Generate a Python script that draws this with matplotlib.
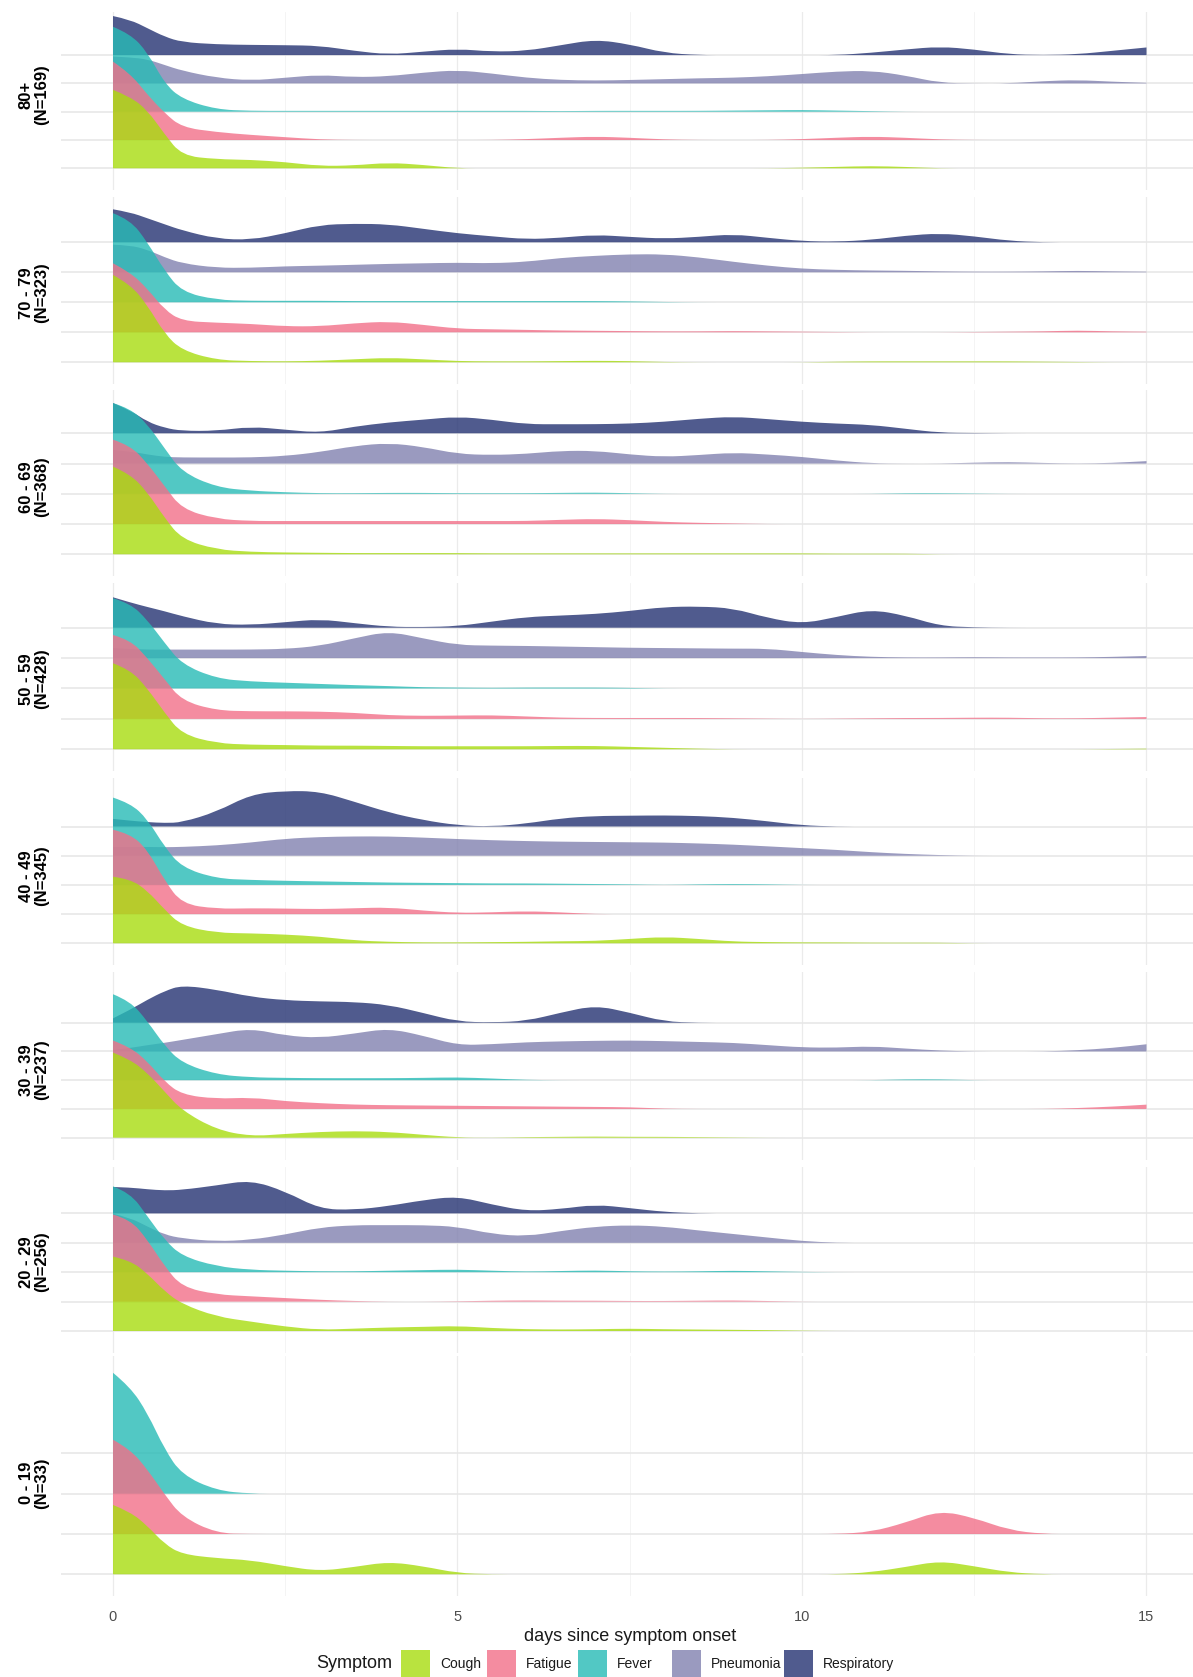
import numpy as np
import matplotlib
matplotlib.use("Agg")
import matplotlib.pyplot as plt
from matplotlib.patches import Rectangle, PathPatch
from matplotlib.path import Path

# ---------------- data ----------------
DAYS = [0, 0.25, 0.5, 0.75, 1, 1.5, 2, 2.5, 3, 3.5, 4, 4.5, 5, 5.5, 6, 6.5, 7,
        7.5, 8, 8.5, 9, 9.5, 10, 10.5, 11, 11.5, 12, 12.5, 13, 13.5, 14, 14.5, 15]
SYMPTOMS = ["Cough", "Fatigue", "Fever", "Pneumonia", "Respiratory"]
AGE_GROUPS = ["80+", "70 - 79", "60 - 69", "50 - 59", "40 - 49", "30 - 39", "20 - 29", "0 - 19"]
N_CASES = [169, 323, 368, 428, 345, 237, 256, 33]
X_TICKS = [0, 5, 10, 15]

# ridge heights (in units of ridge spacing), one value per entry of DAYS
RESP_80 = [1.38, 1.25, 0.95, 0.65, 0.46, 0.38, 0.36, 0.35, 0.33, 0.15, 0.02, 0.12, 0.22, 0.12, 0.15,
           0.35, 0.55, 0.38, 0.08, 0.0, 0.0, 0.0, 0.0, 0.0, 0.08, 0.2, 0.3, 0.2, 0.03, 0.0, 0.03, 0.15, 0.27]
PNEU_80 = [0.95, 0.92, 0.85, 0.65, 0.45, 0.2, 0.1, 0.2, 0.3, 0.22, 0.25, 0.38, 0.47, 0.35, 0.2,
           0.12, 0.1, 0.12, 0.15, 0.18, 0.2, 0.25, 0.33, 0.42, 0.45, 0.28, 0.02, 0.0, 0.0, 0.08, 0.12, 0.06, 0.02]
FEVER_80 = [3.0, 2.75, 2.1, 1.0, 0.45, 0.08, 0.03, 0.03, 0.03, 0.03, 0.03, 0.03, 0.03, 0.03, 0.03,
            0.02, 0.03, 0.03, 0.03, 0.03, 0.04, 0.05, 0.06, 0.04, 0.02, 0.0, 0.0, 0.0, 0.0, 0.0, 0.0, 0.0, 0.0]
FATIGUE_80 = [2.77, 2.35, 1.6, 0.95, 0.45, 0.28, 0.18, 0.1, 0.02, 0.0, 0.0, 0.0, 0.0, 0.0, 0.03,
              0.08, 0.12, 0.08, 0.02, 0.0, 0.0, 0.0, 0.03, 0.08, 0.12, 0.08, 0.02, 0.0, 0.0, 0.0, 0.0, 0.0, 0.0]
COUGH_80 = [2.77, 2.53, 2.05, 1.2, 0.45, 0.32, 0.3, 0.22, 0.08, 0.1, 0.2, 0.12, 0.0, 0.0, 0.0,
            0.0, 0.0, 0.0, 0.0, 0.0, 0.0, 0.0, 0.02, 0.05, 0.08, 0.05, 0.0, 0.0, 0.0, 0.0, 0.0, 0.0, 0.0]

RESP_70 = [1.1, 1.0, 0.8, 0.6, 0.4, 0.12, 0.08, 0.3, 0.58, 0.62, 0.6, 0.45, 0.3, 0.2, 0.1,
           0.15, 0.25, 0.18, 0.12, 0.18, 0.27, 0.15, 0.04, 0.02, 0.08, 0.22, 0.3, 0.2, 0.05, 0.0, 0.0, 0.0, 0.0]
PNEU_70 = [0.92, 0.9, 0.75, 0.5, 0.3, 0.15, 0.15, 0.2, 0.22, 0.25, 0.28, 0.3, 0.32, 0.3, 0.35,
           0.48, 0.55, 0.6, 0.6, 0.5, 0.35, 0.22, 0.12, 0.08, 0.06, 0.05, 0.03, 0.02, 0.02, 0.03, 0.05, 0.03, 0.02]
FEVER_70 = [2.97, 2.75, 2.0, 1.05, 0.35, 0.08, 0.05, 0.05, 0.05, 0.04, 0.04, 0.04, 0.04, 0.04, 0.04,
            0.04, 0.04, 0.03, 0.01, 0.0, 0.0, 0.0, 0.0, 0.0, 0.0, 0.0, 0.0, 0.0, 0.0, 0.0, 0.0, 0.0, 0.0]
FATIGUE_70 = [2.3, 2.0, 1.45, 0.75, 0.38, 0.32, 0.28, 0.2, 0.2, 0.3, 0.36, 0.25, 0.12, 0.1, 0.08,
              0.06, 0.05, 0.04, 0.03, 0.03, 0.04, 0.03, 0.02, 0.01, 0.0, 0.0, 0.0, 0.01, 0.02, 0.03, 0.06, 0.03, 0.02]
COUGH_70 = [2.91, 2.6, 1.9, 0.95, 0.4, 0.08, 0.04, 0.03, 0.05, 0.1, 0.15, 0.1, 0.04, 0.03, 0.03,
            0.04, 0.05, 0.04, 0.01, 0.0, 0.0, 0.0, 0.0, 0.02, 0.03, 0.03, 0.03, 0.03, 0.03, 0.02, 0.01, 0.0, 0.0]

RESP_60 = [1.0, 0.76, 0.38, 0.18, 0.08, 0.08, 0.22, 0.12, 0.02, 0.22, 0.36, 0.45, 0.55, 0.45, 0.3,
           0.3, 0.3, 0.32, 0.38, 0.48, 0.55, 0.47, 0.38, 0.32, 0.28, 0.15, 0.02, 0.01, 0.0, 0.0, 0.0, 0.0, 0.0]
PNEU_60 = [0.45, 0.4, 0.3, 0.22, 0.2, 0.2, 0.2, 0.25, 0.38, 0.58, 0.68, 0.55, 0.32, 0.28, 0.32,
           0.42, 0.42, 0.3, 0.22, 0.28, 0.36, 0.3, 0.22, 0.1, 0.01, 0.0, 0.0, 0.03, 0.05, 0.02, 0.0, 0.02, 0.08]
FEVER_60 = [3.0, 2.82, 2.3, 1.5, 0.72, 0.22, 0.1, 0.05, 0.02, 0.02, 0.03, 0.03, 0.02, 0.02, 0.02,
            0.03, 0.04, 0.02, 0.0, 0.0, 0.0, 0.0, 0.0, 0.0, 0.0, 0.02, 0.02, 0.01, 0.0, 0.0, 0.0, 0.0, 0.0]
FATIGUE_60 = [2.79, 2.6, 2.0, 1.25, 0.5, 0.17, 0.1, 0.1, 0.1, 0.1, 0.1, 0.1, 0.1, 0.1, 0.1,
              0.14, 0.17, 0.13, 0.07, 0.04, 0.02, 0.0, 0.0, 0.0, 0.0, 0.0, 0.0, 0.0, 0.0, 0.0, 0.0, 0.0, 0.0]
COUGH_60 = [2.9, 2.65, 2.05, 1.2, 0.5, 0.16, 0.08, 0.06, 0.05, 0.04, 0.04, 0.04, 0.04, 0.03, 0.03,
            0.03, 0.03, 0.03, 0.03, 0.03, 0.03, 0.03, 0.03, 0.02, 0.02, 0.02, 0.0, 0.0, 0.0, 0.0, 0.0, 0.0, 0.0]

RESP_50 = [1.0, 0.83, 0.68, 0.54, 0.38, 0.12, 0.09, 0.18, 0.28, 0.15, 0.03, 0.02, 0.05, 0.2, 0.35,
           0.4, 0.45, 0.55, 0.68, 0.7, 0.64, 0.32, 0.13, 0.35, 0.6, 0.4, 0.06, 0.01, 0.0, 0.0, 0.0, 0.0, 0.0]
PNEU_50 = [0.33, 0.3, 0.28, 0.28, 0.28, 0.28, 0.28, 0.3, 0.4, 0.65, 0.88, 0.65, 0.43, 0.41, 0.4,
           0.38, 0.36, 0.34, 0.33, 0.32, 0.31, 0.31, 0.2, 0.1, 0.04, 0.02, 0.02, 0.03, 0.02, 0.02, 0.02, 0.04, 0.07]
FEVER_50 = [2.97, 2.8, 2.25, 1.5, 0.8, 0.33, 0.23, 0.19, 0.15, 0.11, 0.08, 0.04, 0.03, 0.02, 0.03,
            0.03, 0.03, 0.02, 0.0, 0.0, 0.0, 0.0, 0.0, 0.0, 0.0, 0.0, 0.0, 0.0, 0.0, 0.0, 0.0, 0.0, 0.0]
FATIGUE_50 = [2.76, 2.6, 2.0, 1.3, 0.6, 0.28, 0.25, 0.25, 0.24, 0.2, 0.12, 0.1, 0.11, 0.12, 0.08,
              0.04, 0.03, 0.03, 0.03, 0.03, 0.02, 0.01, 0.0, 0.01, 0.02, 0.03, 0.03, 0.04, 0.04, 0.02, 0.02, 0.04, 0.06]
COUGH_50 = [2.83, 2.62, 2.0, 1.2, 0.5, 0.2, 0.15, 0.14, 0.12, 0.12, 0.11, 0.1, 0.1, 0.1, 0.1,
            0.11, 0.11, 0.08, 0.05, 0.02, 0.0, 0.0, 0.0, 0.0, 0.0, 0.0, 0.0, 0.0, 0.0, 0.0, 0.0, 0.01, 0.02]

RESP_40 = [0.26, 0.2, 0.15, 0.12, 0.14, 0.5, 1.1, 1.22, 1.2, 0.85, 0.48, 0.22, 0.04, 0.0, 0.1,
           0.28, 0.36, 0.37, 0.38, 0.36, 0.3, 0.18, 0.04, 0.0, 0.0, 0.0, 0.0, 0.0, 0.0, 0.0, 0.0, 0.0, 0.0]
PNEU_40 = [0.3, 0.3, 0.3, 0.29, 0.3, 0.35, 0.45, 0.58, 0.64, 0.66, 0.66, 0.62, 0.57, 0.53, 0.5,
           0.48, 0.47, 0.46, 0.45, 0.42, 0.38, 0.32, 0.26, 0.2, 0.12, 0.06, 0.02, 0.0, 0.0, 0.0, 0.0, 0.0, 0.0]
FEVER_40 = [2.99, 2.8, 2.25, 1.3, 0.6, 0.22, 0.17, 0.14, 0.12, 0.1, 0.08, 0.07, 0.06, 0.05, 0.05,
            0.04, 0.03, 0.02, 0.0, 0.02, 0.03, 0.02, 0.0, 0.0, 0.0, 0.0, 0.0, 0.0, 0.0, 0.0, 0.0, 0.0, 0.0]
FATIGUE_40 = [2.89, 2.75, 2.2, 1.15, 0.35, 0.18, 0.2, 0.19, 0.17, 0.2, 0.23, 0.12, 0.04, 0.06, 0.1,
              0.06, 0.0, 0.0, 0.0, 0.0, 0.0, 0.0, 0.0, 0.0, 0.0, 0.0, 0.0, 0.0, 0.0, 0.0, 0.0, 0.0, 0.0]
COUGH_40 = [2.28, 2.2, 1.8, 1.15, 0.6, 0.36, 0.34, 0.3, 0.23, 0.1, 0.05, 0.03, 0.03, 0.04, 0.05,
            0.07, 0.08, 0.15, 0.22, 0.15, 0.06, 0.04, 0.03, 0.03, 0.02, 0.02, 0.02, 0.0, 0.0, 0.0, 0.0, 0.0, 0.0]

RESP_30 = [0.15, 0.45, 0.8, 1.1, 1.3, 1.15, 0.9, 0.78, 0.74, 0.72, 0.62, 0.34, 0.04, 0.01, 0.06,
           0.35, 0.6, 0.35, 0.04, 0.0, 0.0, 0.0, 0.0, 0.0, 0.0, 0.0, 0.0, 0.0, 0.0, 0.0, 0.0, 0.0, 0.0]
PNEU_30 = [0.05, 0.12, 0.22, 0.3, 0.4, 0.6, 0.8, 0.55, 0.47, 0.62, 0.8, 0.55, 0.22, 0.25, 0.32,
           0.35, 0.37, 0.38, 0.36, 0.33, 0.3, 0.22, 0.14, 0.13, 0.18, 0.1, 0.03, 0.0, 0.0, 0.0, 0.04, 0.12, 0.25]
FEVER_30 = [2.99, 2.75, 2.05, 1.2, 0.6, 0.2, 0.1, 0.08, 0.07, 0.07, 0.07, 0.08, 0.1, 0.06, 0.01,
            0.0, 0.0, 0.0, 0.0, 0.0, 0.0, 0.0, 0.0, 0.0, 0.0, 0.03, 0.03, 0.0, 0.0, 0.0, 0.0, 0.0, 0.0]
FATIGUE_30 = [2.38, 2.15, 1.65, 0.95, 0.5, 0.35, 0.4, 0.27, 0.2, 0.15, 0.13, 0.12, 0.11, 0.1, 0.09,
              0.08, 0.07, 0.06, 0.01, 0.0, 0.0, 0.0, 0.0, 0.0, 0.0, 0.0, 0.0, 0.0, 0.0, 0.0, 0.03, 0.08, 0.15]
COUGH_30 = [2.96, 2.72, 2.25, 1.6, 0.95, 0.28, 0.05, 0.13, 0.2, 0.23, 0.2, 0.1, 0.01, 0.0, 0.02,
            0.03, 0.04, 0.03, 0.03, 0.02, 0.01, 0.0, 0.0, 0.0, 0.0, 0.0, 0.0, 0.0, 0.0, 0.0, 0.0, 0.0, 0.0]

RESP_20 = [0.9, 0.88, 0.82, 0.78, 0.8, 0.95, 1.13, 0.75, 0.15, 0.12, 0.25, 0.45, 0.58, 0.3, 0.08,
           0.15, 0.3, 0.18, 0.05, 0.0, 0.0, 0.0, 0.0, 0.0, 0.0, 0.0, 0.0, 0.0, 0.0, 0.0, 0.0, 0.0, 0.0]
PNEU_20 = [0.99, 0.85, 0.55, 0.28, 0.15, 0.05, 0.1, 0.28, 0.52, 0.6, 0.6, 0.6, 0.55, 0.3, 0.22,
           0.4, 0.55, 0.6, 0.55, 0.42, 0.3, 0.18, 0.06, 0.0, 0.0, 0.0, 0.0, 0.0, 0.0, 0.0, 0.0, 0.0, 0.0]
FEVER_20 = [2.92, 2.7, 1.9, 1.1, 0.55, 0.2, 0.08, 0.05, 0.03, 0.03, 0.05, 0.07, 0.09, 0.05, 0.02,
            0.04, 0.06, 0.03, 0.02, 0.03, 0.05, 0.03, 0.01, 0.0, 0.0, 0.0, 0.0, 0.0, 0.0, 0.0, 0.0, 0.0, 0.0]
FATIGUE_20 = [2.96, 2.8, 2.1, 1.2, 0.5, 0.24, 0.18, 0.12, 0.06, 0.02, 0.0, 0.0, 0.01, 0.03, 0.04,
              0.03, 0.03, 0.02, 0.02, 0.03, 0.04, 0.02, 0.0, 0.0, 0.0, 0.0, 0.0, 0.0, 0.0, 0.0, 0.0, 0.0, 0.0]
COUGH_20 = [2.53, 2.4, 1.95, 1.35, 0.92, 0.49, 0.32, 0.15, 0.04, 0.08, 0.12, 0.14, 0.17, 0.1, 0.06,
            0.05, 0.06, 0.08, 0.06, 0.05, 0.04, 0.03, 0.01, 0.0, 0.0, 0.0, 0.0, 0.0, 0.0, 0.0, 0.0, 0.0, 0.0]

FEVER_0 = [3.0, 2.65, 2.0, 1.1, 0.47, 0.08, 0.0, 0.0, 0.0, 0.0, 0.0, 0.0, 0.0, 0.0, 0.0,
           0.0, 0.0, 0.0, 0.0, 0.0, 0.0, 0.0, 0.0, 0.0, 0.0, 0.0, 0.0, 0.0, 0.0, 0.0, 0.0, 0.0, 0.0]
FATIGUE_0 = [2.34, 2.1, 1.6, 0.98, 0.43, 0.02, 0.0, 0.0, 0.0, 0.0, 0.0, 0.0, 0.0, 0.0, 0.0,
             0.0, 0.0, 0.0, 0.0, 0.0, 0.0, 0.0, 0.0, 0.0, 0.05, 0.28, 0.58, 0.4, 0.1, 0.0, 0.0, 0.0, 0.0]
COUGH_0 = [1.72, 1.55, 1.2, 0.75, 0.5, 0.4, 0.35, 0.2, 0.08, 0.18, 0.31, 0.2, 0.03, 0.0, 0.0,
           0.0, 0.0, 0.0, 0.0, 0.0, 0.0, 0.0, 0.0, 0.0, 0.05, 0.18, 0.33, 0.2, 0.05, 0.0, 0.0, 0.0, 0.0]

PANELS = [
    {"Cough": COUGH_80, "Fatigue": FATIGUE_80, "Fever": FEVER_80, "Pneumonia": PNEU_80, "Respiratory": RESP_80},
    {"Cough": COUGH_70, "Fatigue": FATIGUE_70, "Fever": FEVER_70, "Pneumonia": PNEU_70, "Respiratory": RESP_70},
    {"Cough": COUGH_60, "Fatigue": FATIGUE_60, "Fever": FEVER_60, "Pneumonia": PNEU_60, "Respiratory": RESP_60},
    {"Cough": COUGH_50, "Fatigue": FATIGUE_50, "Fever": FEVER_50, "Pneumonia": PNEU_50, "Respiratory": RESP_50},
    {"Cough": COUGH_40, "Fatigue": FATIGUE_40, "Fever": FEVER_40, "Pneumonia": PNEU_40, "Respiratory": RESP_40},
    {"Cough": COUGH_30, "Fatigue": FATIGUE_30, "Fever": FEVER_30, "Pneumonia": PNEU_30, "Respiratory": RESP_30},
    {"Cough": COUGH_20, "Fatigue": FATIGUE_20, "Fever": FEVER_20, "Pneumonia": PNEU_20, "Respiratory": RESP_20},
    {"Cough": COUGH_0, "Fatigue": FATIGUE_0, "Fever": FEVER_0},
]
for p in PANELS:
    for k, v in p.items():
        assert len(v) == len(DAYS), (k, len(v))

# ---------------- style / layout ----------------
COLORS = {"Cough": "#A8DC0F", "Fatigue": "#F27089", "Fever": "#27BBB6",
          "Pneumonia": "#8181AF", "Respiratory": "#243272"}
ALPHA = 0.8
FONT = ["Liberation Sans", "DejaVu Sans"]
plt.rcParams["font.family"] = FONT

W, H = 1193, 1677
X0_PX, PX_PER_DAY = 113.0, 68.9
PANEL_TOP = [12, 197, 390, 583, 778, 972, 1167, 1356]
BASE_PX = [168.3, 362.3, 554.3, 749.3, 943.3, 1137.7, 1331.0, 1574.3]
STEP_PX = [28.3, 30.0, 30.25, 30.4, 29.2, 28.75, 29.4, 40.3]
N_LEVELS = [5, 5, 5, 5, 5, 5, 5, 4]
LABEL_Y = [95, 293, 487, 679, 876, 1070, 1262, 1483]
BOTTOM_MARGIN = 22


def ridge_patch(x, h, base, **kw):
    """Smooth ridge outline: the sampled heights act as quadratic Bezier
    control points (the library draws the smooth curve)."""
    pts = np.column_stack([x, base + np.asarray(h, dtype=float)])
    verts = [(x[0], base), tuple(pts[0])]
    codes = [Path.MOVETO, Path.LINETO]
    for j in range(1, len(pts) - 1):
        verts.append(tuple(pts[j]))
        verts.append(tuple((pts[j] + pts[j + 1]) / 2))
        codes += [Path.CURVE3, Path.CURVE3]
    verts.append(tuple(pts[-1]))
    codes.append(Path.LINETO)
    verts += [(x[-1], base), (x[0], base)]
    codes += [Path.LINETO, Path.CLOSEPOLY]
    return PathPatch(Path(verts, codes), **kw)


fig = plt.figure(figsize=(W / 100, H / 100), dpi=100)
left_px = X0_PX - 0.75 * PX_PER_DAY
xmax = (W - X0_PX) / PX_PER_DAY
days = np.array(DAYS, dtype=float)

for i, panel in enumerate(PANELS):
    top = PANEL_TOP[i]
    bot = BASE_PX[i] + BOTTOM_MARGIN
    ax = fig.add_axes([left_px / W, 1 - bot / H, (W - left_px) / W, (bot - top) / H])
    s = STEP_PX[i]
    ax.set_xlim(-0.75, xmax)
    ax.set_ylim(1 - BOTTOM_MARGIN / s, 1 + (BASE_PX[i] - top) / s)
    for sp in ax.spines.values():
        sp.set_visible(False)
    ax.set_yticks([])
    for xv in [0, 5, 10, 15]:
        ax.axvline(xv, color="#ebebeb", lw=0.9, zorder=0)
    for xv in [2.5, 7.5, 12.5]:
        ax.axvline(xv, color="#f3f3f3", lw=0.6, zorder=0)
    for lev in range(1, N_LEVELS[i] + 1):
        ax.axhline(lev, color="#e6e6e6", lw=1.1, zorder=0)
    present = [sname for sname in SYMPTOMS if sname in panel]
    # draw top ridge first so lower ridges overlay it
    for lev in range(len(present), 0, -1):
        sname = present[lev - 1]
        ax.add_patch(ridge_patch(days, panel[sname], lev, facecolor=COLORS[sname],
                                 alpha=ALPHA, lw=0, zorder=2 + (10 - lev)))
    if i == len(PANELS) - 1:
        ax.set_xticks(X_TICKS)
        ax.set_xticklabels([str(t) for t in X_TICKS])
        ax.tick_params(axis="x", length=0, pad=10, labelsize=10.5, labelcolor="#4d4d4d")
    else:
        ax.set_xticks([])
    fig.text(34 / W, 1 - LABEL_Y[i] / H, f"{AGE_GROUPS[i]}\n(N={N_CASES[i]})",
             rotation=90, ha="center", va="center", fontsize=12, fontweight="bold",
             linespacing=1.05)

# axis title
fig.text(630 / W, 1 - 1636.7 / H, "days since symptom onset", ha="center", va="center",
         fontsize=13, color="#1a1a1a")

# legend
fig.text(316 / W, 1 - 1664 / H, "Symptom", ha="left", va="center", fontsize=13, color="#1a1a1a")
KEY_X = [401, 487, 578, 672, 784]
for sname, kx in zip(SYMPTOMS, KEY_X):
    fig.add_artist(Rectangle((kx / W, 1 - 1677 / H), 29 / W, 27 / H, transform=fig.transFigure,
                             facecolor=COLORS[sname], alpha=ALPHA, lw=0))
    fig.text((kx + 39) / W, 1 - 1664 / H, sname, ha="left", va="center", fontsize=10, color="#1a1a1a")

fig.savefig("out.png", dpi=100)
